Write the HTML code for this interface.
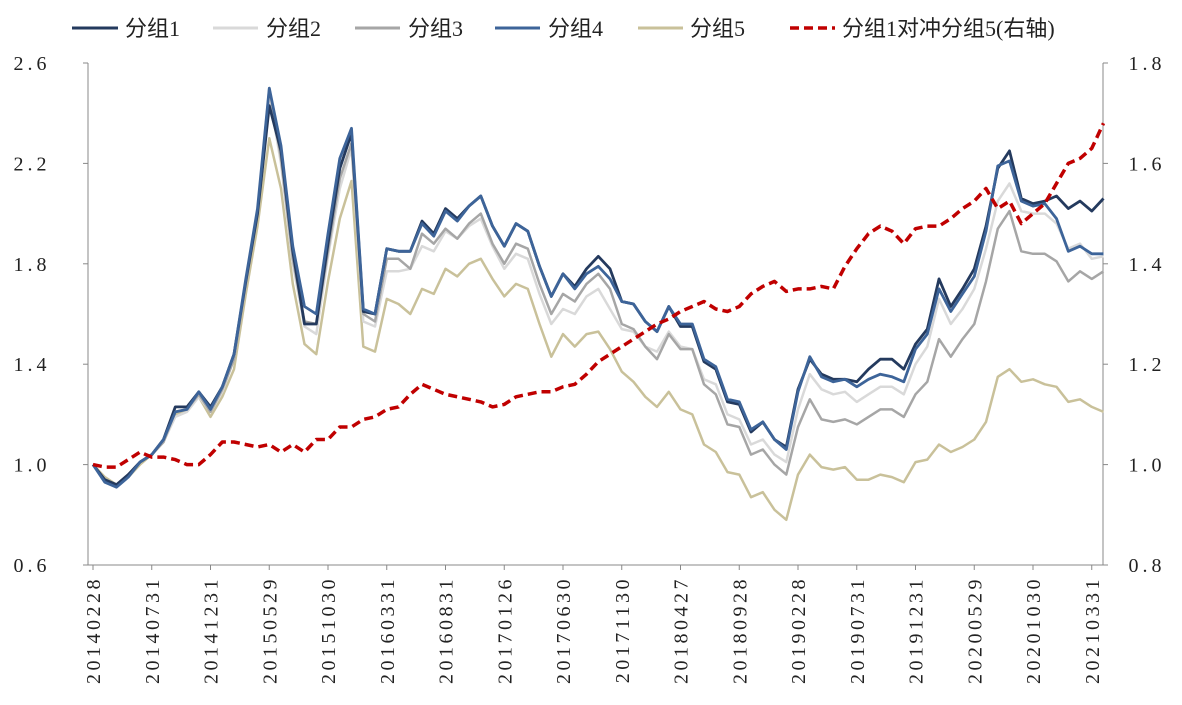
<!DOCTYPE html>
<html><head><meta charset="utf-8"><style>
html,body{margin:0;padding:0;background:#fff;}
svg{display:block;font-family:"Liberation Serif","Noto Serif CJK SC",serif;}
</style></head><body>
<svg id="chart" width="1182" height="705" viewBox="0 0 1182 705" xmlns="http://www.w3.org/2000/svg">
<g id="legend" font-family="Liberation Serif, Noto Sans CJK SC, sans-serif" font-size="22" fill="#222">
 <g><line x1="72" y1="28" x2="118" y2="28" stroke="#243a5e" stroke-width="3"/><text x="125" y="36">分组1</text></g>
 <g><line x1="213" y1="28" x2="258" y2="28" stroke="#d9d9d9" stroke-width="3"/><text x="266" y="36">分组2</text></g>
 <g><line x1="355" y1="28" x2="400" y2="28" stroke="#a6a6a6" stroke-width="3"/><text x="408" y="36">分组3</text></g>
 <g><line x1="495" y1="28" x2="540" y2="28" stroke="#3d6499" stroke-width="3"/><text x="548" y="36">分组4</text></g>
 <g><line x1="638" y1="28" x2="683" y2="28" stroke="#c9c19a" stroke-width="3"/><text x="690" y="36">分组5</text></g>
 <g><line x1="790" y1="28" x2="835" y2="28" stroke="#c00000" stroke-width="3.5" stroke-dasharray="9,5"/><text x="842" y="36">分组1对冲分组5(右轴)</text></g>
</g>
<line x1="88" y1="63" x2="88" y2="565" stroke="#888" stroke-width="1"/>
<line x1="1103" y1="63" x2="1103" y2="565" stroke="#888" stroke-width="1"/>
<line x1="88" y1="565" x2="1103" y2="565" stroke="#888" stroke-width="1"/>
<g id="axes"></g>
<g id="series"></g>
</svg>
<script>
const xLabels=["20140228","20140731","20141231","20150529","20151030","20160331","20160831","20170126","20170630","20171130","20180427","20180928","20190228","20190731","20191231","20200529","20201030","20210331"];
const leftTicks=["0.6","1.0","1.4","1.8","2.2","2.6"];
const rightTicks=["0.8","1.0","1.2","1.4","1.6","1.8"];
const group1=[1.0,0.94,0.92,0.96,1.01,1.04,1.10,1.23,1.23,1.29,1.23,1.31,1.44,1.73,2.0,2.43,2.25,1.85,1.56,1.56,1.88,2.18,2.32,1.61,1.60,1.86,1.85,1.85,1.97,1.92,2.02,1.98,2.03,2.07,1.95,1.87,1.96,1.93,1.79,1.67,1.76,1.71,1.78,1.83,1.78,1.65,1.64,1.57,1.53,1.63,1.55,1.55,1.41,1.38,1.25,1.24,1.13,1.17,1.10,1.07,1.30,1.42,1.36,1.34,1.34,1.33,1.38,1.42,1.42,1.38,1.48,1.54,1.74,1.63,1.70,1.78,1.95,2.18,2.25,2.06,2.04,2.05,2.07,2.02,2.05,2.01,2.06];
const group2=[1.0,0.94,0.92,0.96,1.01,1.04,1.09,1.19,1.21,1.27,1.21,1.29,1.42,1.72,2.0,2.47,2.2,1.8,1.55,1.52,1.83,2.1,2.26,1.57,1.55,1.77,1.77,1.78,1.87,1.85,1.93,1.9,1.95,1.98,1.87,1.78,1.84,1.82,1.68,1.56,1.62,1.60,1.67,1.70,1.62,1.54,1.53,1.47,1.45,1.53,1.47,1.46,1.34,1.32,1.20,1.18,1.08,1.10,1.04,1.01,1.22,1.36,1.30,1.28,1.29,1.25,1.28,1.31,1.31,1.28,1.40,1.47,1.66,1.56,1.62,1.70,1.86,2.05,2.12,2.01,2.0,2.0,1.96,1.86,1.88,1.82,1.83];
const group3=[1.0,0.94,0.92,0.96,1.01,1.04,1.09,1.21,1.22,1.28,1.21,1.30,1.42,1.72,2.0,2.50,2.22,1.82,1.57,1.56,1.85,2.14,2.28,1.60,1.57,1.82,1.82,1.78,1.92,1.88,1.94,1.90,1.96,2.0,1.88,1.80,1.88,1.86,1.72,1.60,1.68,1.65,1.72,1.76,1.70,1.56,1.54,1.47,1.42,1.52,1.46,1.46,1.32,1.28,1.16,1.15,1.04,1.06,1.00,0.96,1.15,1.26,1.18,1.17,1.18,1.16,1.19,1.22,1.22,1.19,1.28,1.33,1.50,1.43,1.50,1.56,1.73,1.94,2.01,1.85,1.84,1.84,1.81,1.73,1.77,1.74,1.77];
const group4=[1.0,0.93,0.91,0.95,1.01,1.04,1.10,1.21,1.22,1.29,1.22,1.31,1.44,1.74,2.02,2.50,2.27,1.87,1.63,1.60,1.92,2.22,2.34,1.62,1.60,1.86,1.85,1.85,1.96,1.91,2.01,1.97,2.03,2.07,1.95,1.87,1.96,1.93,1.79,1.67,1.76,1.70,1.76,1.79,1.74,1.65,1.64,1.57,1.53,1.63,1.56,1.56,1.42,1.39,1.26,1.25,1.14,1.17,1.10,1.06,1.29,1.43,1.35,1.33,1.34,1.31,1.34,1.36,1.35,1.33,1.46,1.52,1.70,1.61,1.68,1.75,1.93,2.19,2.21,2.05,2.03,2.04,1.98,1.85,1.87,1.84,1.84];
const group5=[1.0,0.95,0.92,0.95,1.0,1.04,1.09,1.20,1.22,1.27,1.19,1.27,1.38,1.68,1.95,2.30,2.10,1.72,1.48,1.44,1.73,1.98,2.13,1.47,1.45,1.66,1.64,1.60,1.70,1.68,1.78,1.75,1.80,1.82,1.74,1.67,1.72,1.70,1.56,1.43,1.52,1.47,1.52,1.53,1.46,1.37,1.33,1.27,1.23,1.29,1.22,1.20,1.08,1.05,0.97,0.96,0.87,0.89,0.82,0.78,0.96,1.04,0.99,0.98,0.99,0.94,0.94,0.96,0.95,0.93,1.01,1.02,1.08,1.05,1.07,1.10,1.17,1.35,1.38,1.33,1.34,1.32,1.31,1.25,1.26,1.23,1.21];
const hedge=[1.0,0.995,0.995,1.01,1.025,1.015,1.015,1.01,1.0,1.0,1.02,1.045,1.045,1.04,1.035,1.04,1.025,1.04,1.025,1.05,1.05,1.075,1.075,1.09,1.095,1.11,1.115,1.14,1.16,1.15,1.14,1.135,1.13,1.125,1.115,1.12,1.135,1.14,1.145,1.145,1.155,1.16,1.18,1.205,1.22,1.235,1.25,1.265,1.28,1.29,1.305,1.315,1.325,1.31,1.305,1.315,1.34,1.355,1.365,1.345,1.35,1.35,1.355,1.35,1.395,1.43,1.46,1.475,1.465,1.44,1.47,1.475,1.475,1.49,1.51,1.525,1.55,1.51,1.525,1.48,1.50,1.52,1.56,1.60,1.61,1.63,1.68];

const NS="http://www.w3.org/2000/svg";
const X0=93, STEP=11.75, TOP=63, BOT=565;
const xPos=i=>X0+STEP*i;
const yL=v=>BOT-(v-0.6)/2.0*(BOT-TOP);
const yR=v=>BOT-(v-0.8)/1.0*(BOT-TOP);
const axes=document.getElementById('axes');
const ser=document.getElementById('series');
function mk(tag,attrs,parent){const e=document.createElementNS(NS,tag);for(const k in attrs)e.setAttribute(k,attrs[k]);parent.appendChild(e);return e;}

leftTicks.forEach(t=>{
  const y=yL(parseFloat(t));
  const tk=mk('line',{x1:83,y1:y,x2:88,y2:y,stroke:'#888'},axes);
  
  
  const tx=mk('text',{x:32,y:y+7,'font-size':20,'letter-spacing':4,fill:'#222','text-anchor':'middle'},axes);
  tx.textContent=t;
  
  
});
rightTicks.forEach(t=>{
  const y=yR(parseFloat(t));
  const tk=mk('line',{x1:1103,y1:y,x2:1108,y2:y,stroke:'#888'},axes);
  
  
  const tx=mk('text',{x:1147,y:y+7,'font-size':20,'letter-spacing':4,fill:'#222','text-anchor':'middle'},axes);
  tx.textContent=t;
  
  
});
xLabels.forEach((t,k)=>{
  const x=xPos(k*5);
  const tk=mk('line',{x1:x,y1:565,x2:x,y2:570,stroke:'#888'},axes);
  
  
  const tx=mk('text',{x:0,y:0,'font-size':20,'letter-spacing':3.5,fill:'#222','text-anchor':'end',transform:`translate(${x+7},576) rotate(-90)`},axes);
  tx.textContent=t;
  
  
});
function line(arr,yf,color,w,name,dash){
  const d=arr.map((v,i)=>(i?'L':'M')+xPos(i).toFixed(1)+','+yf(v).toFixed(1)).join(' ');
  const p=mk('path',{d:d,fill:'none',stroke:color,'stroke-width':w,'stroke-linejoin':'round'},ser);
  if(dash)p.setAttribute('stroke-dasharray',dash);
  
  
}
line(group5,yL,'#c9c19a',2.5,'series-group5');
line(group2,yL,'#d9d9d9',2.5,'series-group2');
line(group3,yL,'#a6a6a6',2.5,'series-group3');
line(group1,yL,'#243a5e',2.8,'series-group1');
line(group4,yL,'#3d6499',2.8,'series-group4');
line(hedge,yR,'#c00000',3.5,'series-hedge','9,5');
</script>
</body></html>
